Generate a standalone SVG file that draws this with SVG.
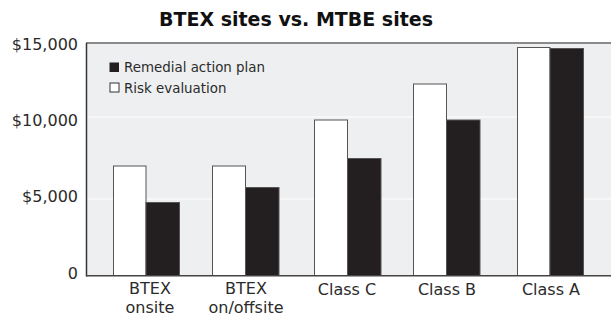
<svg xmlns="http://www.w3.org/2000/svg" width="611" height="320" viewBox="0 0 611 320">
  <style>
    text { font-family: "DejaVu Sans", "Open Sans", sans-serif; fill: #2b2b2b; }
    .title { font-weight: bold; font-size: 19px; fill: #111; }
    .tick { font-size: 16px; text-anchor: end; }
    .cat { font-size: 16px; text-anchor: middle; }
    .leg { font-size: 13.4px; }
    .risk { fill: #ffffff; stroke: #555; stroke-width: 1; }
    .rap { fill: #231f20; stroke: #555; stroke-width: 1; }
    .grid { stroke: #ffffff; stroke-width: 1.2; }
  </style>

  <rect width="611" height="320" fill="#ffffff"/>

  <text class="title" x="296" y="26" text-anchor="middle">BTEX sites vs. MTBE sites</text>

  <!-- plot area -->
  <g id="plot">
    <rect x="86" y="43" width="525" height="233" fill="#eeeff1"/>
    <line class="grid" x1="87" y1="117" x2="611" y2="117"/>
    <line class="grid" x1="87" y1="199" x2="611" y2="199"/>
    <line x1="86" y1="43" x2="611" y2="43" stroke="#8a8a8a" stroke-width="2"/>
  </g>

  <!-- value axis -->
  <g id="y-axis">
    <text class="tick" x="78" y="50">$15,000</text>
    <text class="tick" x="78" y="126">$10,000</text>
    <text class="tick" x="78" y="202">$5,000</text>
    <text class="tick" x="78" y="279">0</text>
  </g>

  <!-- bars: white = risk evaluation, black = remedial action plan -->
  <g id="btex-onsite">
    <rect class="risk" x="113.5" y="166" width="32.5" height="109.5"/>
    <rect class="rap" x="146" y="202.5" width="33.5" height="73"/>
    <text class="cat" x="150" y="294">BTEX</text>
    <text class="cat" x="150" y="313">onsite</text>
  </g>
  <g id="btex-on-offsite">
    <rect class="risk" x="212.5" y="166" width="33" height="109.5"/>
    <rect class="rap" x="245.5" y="187.5" width="33.5" height="88"/>
    <text class="cat" x="246" y="294">BTEX</text>
    <text class="cat" x="246" y="313">on/offsite</text>
  </g>
  <g id="class-c">
    <rect class="risk" x="314.5" y="120" width="33" height="155.5"/>
    <rect class="rap" x="347.5" y="158.5" width="33.5" height="117"/>
    <text class="cat" x="347" y="295">Class C</text>
  </g>
  <g id="class-b">
    <rect class="risk" x="413.5" y="84" width="33" height="191.5"/>
    <rect class="rap" x="446.5" y="120" width="33.5" height="155.5"/>
    <text class="cat" x="447" y="295">Class B</text>
  </g>
  <g id="class-a">
    <rect class="risk" x="517.5" y="47.5" width="32.5" height="228"/>
    <rect class="rap" x="550" y="48.5" width="33.5" height="227"/>
    <text class="cat" x="551" y="295">Class A</text>
  </g>

  <!-- axis frame -->
  <g id="connectors">
    <line x1="86.5" y1="43" x2="86.5" y2="276.5" stroke="#333" stroke-width="1.5"/>
    <line x1="86" y1="275.8" x2="611" y2="275.8" stroke="#444" stroke-width="1.5"/>
  </g>

  <!-- legend -->
  <g id="legend">
    <rect x="109.5" y="62.5" width="9.5" height="9.5" fill="#231f20"/>
    <text class="leg" x="124" y="72">Remedial action plan</text>
    <rect x="110" y="83" width="9" height="9" fill="#ffffff" stroke="#333" stroke-width="1"/>
    <text class="leg" x="124" y="92.5">Risk evaluation</text>
  </g>
</svg>
